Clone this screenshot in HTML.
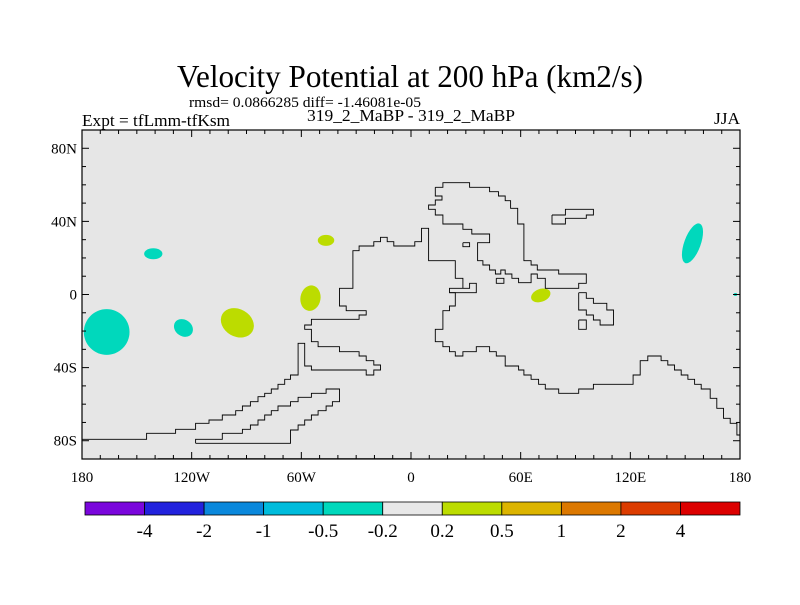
<!DOCTYPE html>
<html><head><meta charset="utf-8">
<style>
html,body{margin:0;padding:0;background:#fff;}
body{width:800px;height:600px;overflow:hidden;}
svg text{font-family:"Liberation Serif",serif;fill:#000;}
</style></head>
<body>
<svg id="chart" width="800" height="600" viewBox="0 0 800 600">
  <text x="177" y="87" font-size="32" textLength="466" lengthAdjust="spacingAndGlyphs">Velocity Potential at 200 hPa (km2/s)</text>
  <text x="189" y="107" font-size="15" textLength="232" lengthAdjust="spacingAndGlyphs">rmsd= 0.0866285 diff= -1.46081e-05</text>
  <text x="82" y="126" font-size="17" textLength="148" lengthAdjust="spacingAndGlyphs">Expt = tfLmm-tfKsm</text>
  <text x="307" y="121" font-size="17" textLength="208" lengthAdjust="spacingAndGlyphs">319_2_MaBP - 319_2_MaBP</text>
  <text x="714" y="124" font-size="17" textLength="26" lengthAdjust="spacingAndGlyphs">JJA</text>
  <g id="plot"></g>
  <g id="colorbar"></g>
</svg>
<script>
// ---- chart data ----
const xTickLabels = ["180","120W","60W","0","60E","120E","180"];
const xTickLons = [-180,-120,-60,0,60,120,180];
const yTickLabels = ["80N","40N","0","40S","80S"];
const yTickLats = [80,40,0,-40,-80];
const levelLabels = ["-4","-2","-1","-0.5","-0.2","0.2","0.5","1","2","4"];
const levelColors = ["#7a06dc","#2222dd","#0a88dc","#00bcdc","#00d8bc","#e8e8e8","#bcdc00","#dcb400","#dc7800","#dc3c00","#dc0000"];
// contour blobs: lon, lat, radius lon (deg), radius lat (deg), rotation, colour class index
const blobLon = [-166.5,-141,-124.5,-95,-46.5,-55,71,154,177.5];
const blobLat = [-20.5,22.3,-18.3,-15.5,29.6,-2,-0.5,28,0];
const blobRx  = [12.5,5,5.5,9.5,4.5,5.5,5.5,4.5,1];
const blobRy  = [12.5,3,4.5,7.5,3,7,3.5,11.5,0.8];
const blobRot = [0,0,35,30,0,10,-20,20,0];
const blobCls = [4,4,4,6,6,6,6,4,4];

// ---- axes ----
const X0=82, X1=740, Y0=130, Y1=459;
const xScale = lon => X0 + (lon+180)/360*(X1-X0);
const yScale = lat => Y0 + (90-lat)/180*(Y1-Y0);
const NS="http://www.w3.org/2000/svg";
const plot=document.getElementById('plot');
function mk(tag,attrs,parent){const e=document.createElementNS(NS,tag);for(const k in attrs)e.setAttribute(k,attrs[k]);parent.appendChild(e);return e;}

const clip=mk('clipPath',{id:'plotclip'},plot);
mk('rect',{x:X0,y:Y0,width:X1-X0,height:Y1-Y0},clip);

const bg=mk('rect',{x:X0,y:Y0,width:X1-X0,height:Y1-Y0,fill:'#e6e6e6'},plot);



const blobs=mk('g',{'clip-path':'url(#plotclip)'},plot);


for(let i=0;i<blobLon.length;i++){
  const cx=xScale(blobLon[i]), cy=yScale(blobLat[i]);
  const rx=blobRx[i]*(X1-X0)/360, ry=blobRy[i]*(Y1-Y0)/180;
  const e=mk('ellipse',{cx:cx,cy:cy,rx:rx,ry:ry,fill:levelColors[blobCls[i]],transform:`rotate(${blobRot[i]} ${cx} ${cy})`},blobs);
  
  
}

// coastlines (basemap, traced in zoom-reference units, converted to plot coords)
const coastTraces = [
 [[843,292],[860,292],[860,278],[920,278],[920,292],[965,292],[965,305],[985,305],[985,318],[1000,318],[1000,332],[1012,332],[1012,355],[1028,355],[1028,402],[1042,402],[1042,512],[1058,512],[1058,525],[1072,525],[1072,540],[1120,540],[1120,552],[1182,552],[1182,580],[1165,580],[1165,595],[1090,595],[1090,565],[1072,565],[1072,552],[1058,552],[1058,578],[1030,578],[1030,565],[1015,565],[1015,552],[1000,552],[1000,540],[990,540],[990,552],[978,552],[978,540],[965,540],[965,525],[950,525],[950,512],[938,512],[938,458],[965,458],[965,432],[925,432],[925,418],[905,418],[905,402],[860,402],[860,375],[843,375],[843,358],[828,358],[828,345],[843,345],[843,330],[858,330],[858,318],[843,318],[843,292]],
 [[905,458],[920,458],[920,470],[905,470],[905,458]],
 [[980,565],[997,565],[997,580],[980,580],[980,565]],
 [[1105,375],[1135,375],[1135,358],[1198,358],[1198,375],[1182,375],[1182,385],[1135,385],[1135,402],[1105,402],[1105,375]],
 [[1165,608],[1182,608],[1182,625],[1198,625],[1198,640],[1228,640],[1228,660],[1243,660],[1243,705],[1213,705],[1213,690],[1198,690],[1198,675],[1182,675],[1182,660],[1165,660],[1165,608]],
 [[1165,690],[1182,690],[1182,718],[1165,718],[1165,690]],
 [[50,1048],[195,1048],[195,1030],[260,1030],[260,1018],[305,1018],[305,1000],[335,1000],[335,990],[365,990],[365,975],[395,975],[395,962],[410,962],[410,948],[428,948],[428,935],[445,935],[445,920],[460,920],[460,910],[475,910],[475,897],[490,897],[490,883],[505,883],[505,868],[518,868],[518,855],[535,855],[535,760],[550,760],[550,828],[565,828],[565,840],[688,840],[688,855],[705,855],[705,840],[720,840],[720,825],[705,825],[705,812],[688,812],[688,798],[672,798],[672,785],[628,785],[628,770],[580,770],[580,755],[565,755],[565,718],[550,718],[550,705],[565,705],[565,688],[672,688],[672,675],[688,675],[688,662],[643,662],[643,648],[628,648],[628,595],[658,595],[658,482],[672,482],[672,468],[705,468],[705,455],[720,455],[720,442],[735,442],[735,455],[750,455],[750,468],[797,468],[797,455],[812,455],[812,415],[828,415],[828,512],[888,512],[888,565],[905,565],[905,595],[875,595],[875,608],[935,608],[935,580],[920,580],[920,595],[905,595]],
 [[875,608],[888,608],[888,648],[875,648],[875,662],[860,662],[860,718],[843,718],[843,755],[860,755],[860,770],[875,770],[875,785],[888,785],[888,798],[905,798],[905,785],[935,785],[935,770],[965,770],[965,785],[980,785],[980,798],[1000,798],[1000,828],[1030,828],[1030,840],[1042,840],[1042,855],[1058,855],[1058,868],[1075,868],[1075,883],[1090,883],[1090,897],[1120,897],[1120,910],[1165,910],[1165,897],[1198,897],[1198,883],[1287,883],[1287,855],[1303,855],[1303,812],[1320,812],[1320,798],[1350,798],[1350,812],[1365,812],[1365,825],[1380,825],[1380,840],[1395,840],[1395,855],[1410,855],[1410,868],[1425,868],[1425,883],[1440,883],[1440,897],[1460,897],[1460,925],[1475,925],[1475,955],[1490,955],[1490,985],[1505,985],[1505,1000],[1520,1000],[1520,1035],[1527,1035]],
 [[305,1060],[518,1060],[518,1020],[535,1020],[535,1005],[550,1005],[550,990],[565,990],[565,975],[580,975],[580,962],[598,962],[598,948],[612,948],[612,935],[628,935],[628,897],[598,897],[598,910],[565,910],[565,922],[535,922],[535,935],[518,935],[518,948],[490,948],[490,962],[475,962],[475,975],[460,975],[460,990],[445,990],[445,1005],[428,1005],[428,1018],[410,1018],[410,1030],[365,1030],[365,1048],[305,1048],[305,1060]],
 [[220,1106],[790,1106]]
];
const tx = zx => X0 + (zx-50)*(X1-X0)/1477;
const ty = zy => 90 + zy/3;
coastTraces.forEach(tr=>{
  const p=mk('polyline',{points:tr.map(q=>tx(q[0]).toFixed(1)+','+ty(q[1]).toFixed(1)).join(' '),fill:'none',stroke:'#000','stroke-width':0.9},plot);
  
  
});

const fr=mk('rect',{x:X0,y:Y0,width:X1-X0,height:Y1-Y0,fill:'none',stroke:'#000','stroke-width':1.2},plot);



for(let lon=-180;lon<=180;lon+=10){
  const x=xScale(lon), L=(lon%60===0)?7:4;
  mk('line',{x1:x,y1:Y1,x2:x,y2:Y1-L,stroke:'#000','stroke-width':1},plot);
  mk('line',{x1:x,y1:Y0,x2:x,y2:Y0+L,stroke:'#000','stroke-width':1},plot);
}
for(let lat=-90;lat<=90;lat+=10){
  const y=yScale(lat), L=(lat%40===0)?7:4;
  mk('line',{x1:X0,y1:y,x2:X0+L,y2:y,stroke:'#000','stroke-width':1},plot);
  mk('line',{x1:X1,y1:y,x2:X1-L,y2:y,stroke:'#000','stroke-width':1},plot);
}
xTickLabels.forEach((t,i)=>{
  const e=mk('text',{x:xScale(xTickLons[i]),y:Y1+23,'font-size':15,'text-anchor':'middle'},plot);
  e.textContent=t;
  
  
});
yTickLabels.forEach((t,i)=>{
  const e=mk('text',{x:X0-5,y:yScale(yTickLats[i])+5,'font-size':15,'text-anchor':'end'},plot);
  e.textContent=t;
  
  
});

const cb=document.getElementById('colorbar');
const CB0=85, CB1=740, CBY=502, CBH=13;
const bw=(CB1-CB0)/levelColors.length;
levelColors.forEach((c,i)=>{
  const r=mk('rect',{x:CB0+i*bw,y:CBY,width:bw,height:CBH,fill:c,stroke:'#000','stroke-width':0.8},cb);
  
  
});
levelLabels.forEach((t,i)=>{
  const e=mk('text',{x:CB0+(i+1)*bw,y:CBY+CBH+22,'font-size':19,'text-anchor':'middle'},cb);
  e.textContent=t;
  
  
});
</script>
</body></html>
